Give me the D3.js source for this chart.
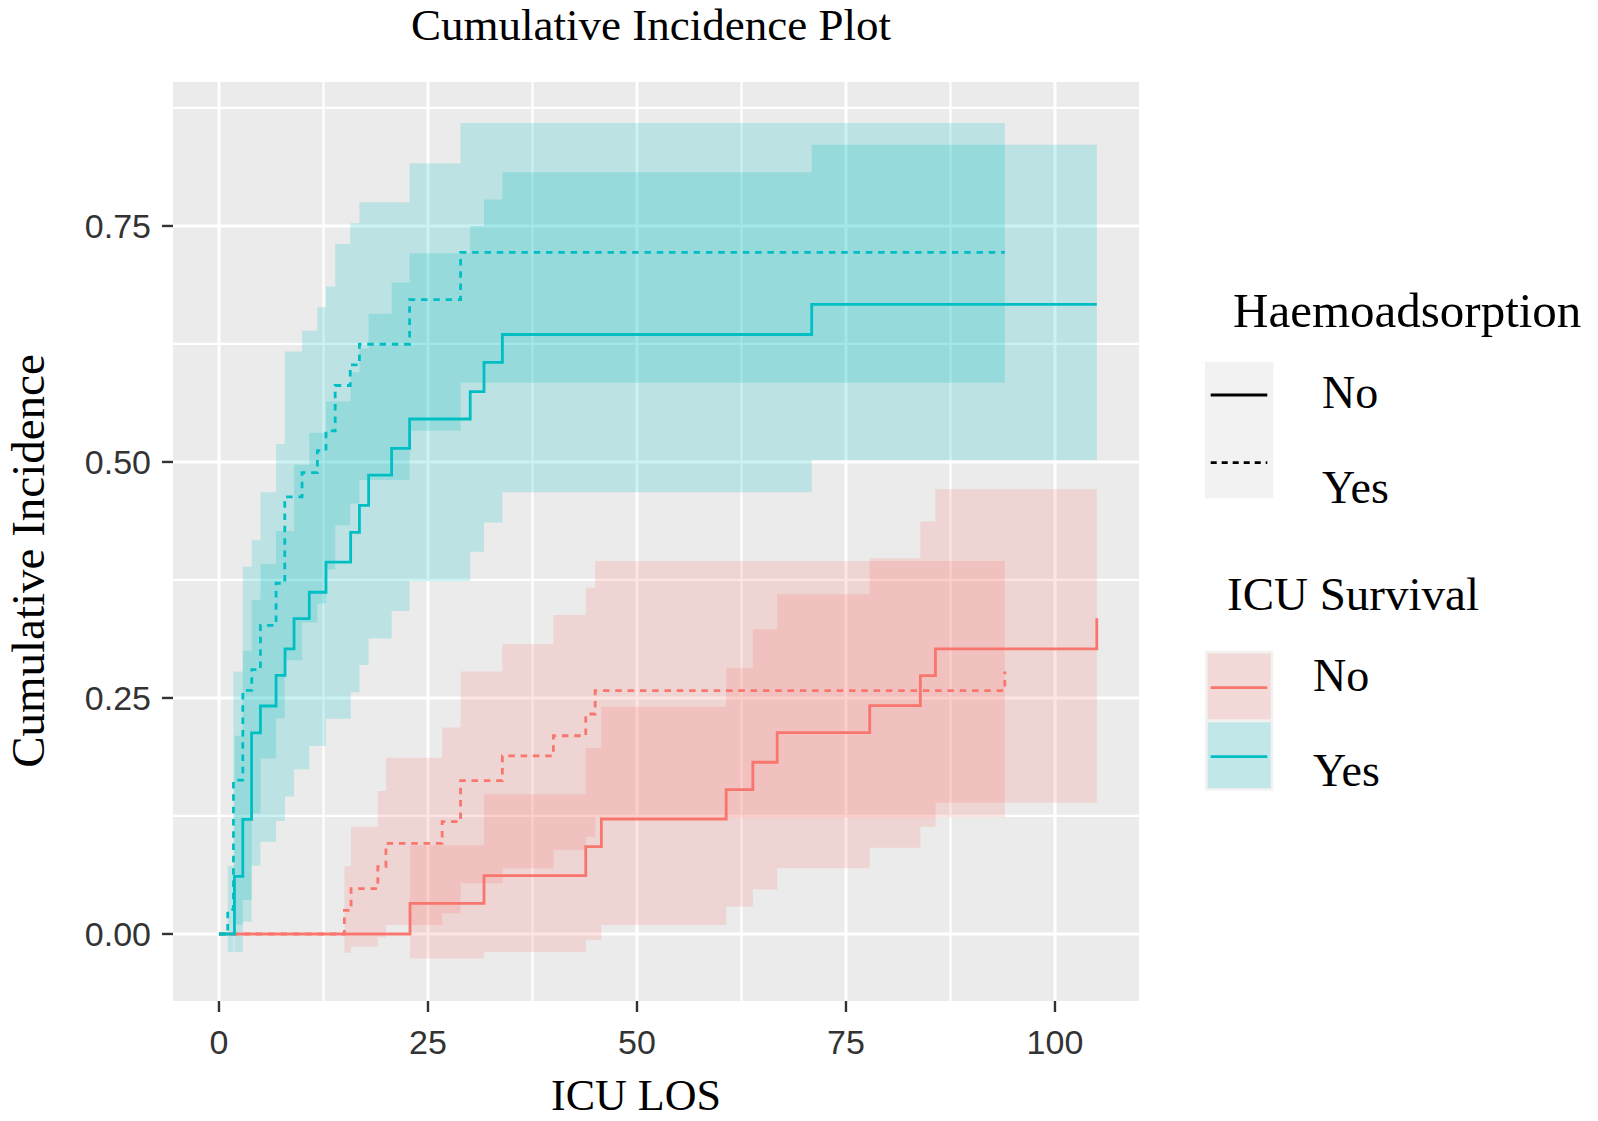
<!DOCTYPE html>
<html><head><meta charset="utf-8">
<script src="https://cdn.jsdelivr.net/npm/d3@7"></script>
<style>body{margin:0;background:#fff;} svg{display:block;}</style>
</head><body>
<svg id="chart" width="1598" height="1121"></svg>
<script>
// ---------------- DATA ----------------
const xTicks = [0, 25, 50, 75, 100];
const xTickLabels = ["0", "25", "50", "75", "100"];
const xMinorTicks = [12.5, 37.5, 62.5, 87.5];
const yTicks = [0, 0.25, 0.5, 0.75];
const yTickLabels = ["0.00", "0.25", "0.50", "0.75"];
const yMinorTicks = [0.125, 0.375, 0.625, 0.875];

const haemoLevels = ["No", "Yes"];
const survivalLevels = ["No", "Yes"];

// ICU Survival = Yes, Haemoadsorption = No
const survYesHaemoNoTime  = [0, 1.85, 2.85, 3.9, 4.96, 6.83, 7.9, 8.98, 10.8, 12.8, 15.75, 16.8, 17.9, 20.65, 22.8, 30.05, 31.7, 33.9, 70.9];
const survYesHaemoNoEst   = [0, 0.061, 0.1215, 0.213, 0.2415, 0.274, 0.302, 0.334, 0.362, 0.394, 0.4255, 0.454, 0.486, 0.5145, 0.5455, 0.5745, 0.6056, 0.635, 0.667];
const survYesHaemoNoLower = [null, -0.019, 0.013, 0.0724, 0.0978, 0.1197, 0.1455, 0.1745, 0.199, 0.228, 0.256, 0.285, 0.313, 0.342, 0.374, 0.405, 0.436, 0.468, 0.502];
const survYesHaemoNoUpper = [null, 0.21, 0.30, 0.354, 0.392, 0.427, 0.427, 0.497, 0.531, 0.564, 0.595, 0.62, 0.657, 0.69, 0.721, 0.75, 0.778, 0.807, 0.836];
const survYesHaemoNoEnd = 105;

// ICU Survival = Yes, Haemoadsorption = Yes
const survYesHaemoYesTime  = [0, 1.05, 1.73, 2.85, 3.92, 4.96, 6.83, 7.87, 9.94, 11.77, 12.8, 13.9, 15.7, 16.8, 22.8, 28.9];
const survYesHaemoYesEst   = [0, 0.026, 0.163, 0.258, 0.28, 0.327, 0.3715, 0.463, 0.4887, 0.512, 0.533, 0.581, 0.6028, 0.6247, 0.672, 0.722];
const survYesHaemoYesLower = [null, -0.019, 0.01, 0.036, 0.128, 0.186, 0.2285, 0.29, 0.33, 0.35, 0.386, 0.433, 0.456, 0.481, 0.533, 0.584];
const survYesHaemoYesUpper = [null, 0.072, 0.278, 0.389, 0.417, 0.468, 0.519, 0.617, 0.639, 0.664, 0.686, 0.731, 0.753, 0.775, 0.8165, 0.859];
const survYesHaemoYesEnd = 94;

// ICU Survival = No, Haemoadsorption = No
const survNoHaemoNoTime  = [0, 22.85, 31.7, 43.87, 45.74, 60.67, 63.86, 66.77, 77.84, 83.9, 85.7, 105];
const survNoHaemoNoEst   = [0, 0.0325, 0.0618, 0.0925, 0.1218, 0.153, 0.1819, 0.2133, 0.2419, 0.2736, 0.302, 0.3344];
const survNoHaemoNoLower = [null, -0.026, -0.019, -0.006, 0.0095, 0.029, 0.047, 0.0696, 0.0914, 0.1137, 0.139, null];
const survNoHaemoNoUpper = [null, 0.094, 0.148, 0.197, 0.2408, 0.2815, 0.3227, 0.36, 0.398, 0.437, 0.471, null];
const survNoHaemoNoEnd = 105;

// ICU Survival = No, Haemoadsorption = Yes
const survNoHaemoYesTime  = [0, 15.0, 15.8, 19.0, 19.97, 26.7, 28.9, 33.9, 40.0, 43.87, 45.0, 94];
const survNoHaemoYesEst   = [0, 0.025, 0.048, 0.0713, 0.096, 0.119, 0.1624, 0.1886, 0.21, 0.233, 0.2577, 0.278];
const survNoHaemoYesLower = [null, -0.0198, -0.0134, -0.0035, 0.0095, 0.0219, 0.0537, 0.0696, 0.089, 0.103, 0.1236, null];
const survNoHaemoYesUpper = [null, 0.072, 0.1137, 0.1515, 0.1868, 0.2186, 0.278, 0.3068, 0.3379, 0.3668, 0.395, null];
const survNoHaemoYesEnd = 94;

const series = [
  {survival: "No",  haemo: "Yes", time: survNoHaemoYesTime,  est: survNoHaemoYesEst,  lower: survNoHaemoYesLower,  upper: survNoHaemoYesUpper,  end: survNoHaemoYesEnd},
  {survival: "No",  haemo: "No",  time: survNoHaemoNoTime,   est: survNoHaemoNoEst,   lower: survNoHaemoNoLower,   upper: survNoHaemoNoUpper,   end: survNoHaemoNoEnd},
  {survival: "Yes", haemo: "Yes", time: survYesHaemoYesTime, est: survYesHaemoYesEst, lower: survYesHaemoYesLower, upper: survYesHaemoYesUpper, end: survYesHaemoYesEnd},
  {survival: "Yes", haemo: "No",  time: survYesHaemoNoTime,  est: survYesHaemoNoEst,  lower: survYesHaemoNoLower,  upper: survYesHaemoNoUpper,  end: survYesHaemoNoEnd}
];

// ---------------- LAYOUT ----------------
const panel = {left: 173, right: 1139, top: 82, bottom: 1001};
const colorScale = d3.scaleOrdinal().domain(survivalLevels).range(["#F8766D", "#00BFC4"]);
const dashScale = d3.scaleOrdinal().domain(haemoLevels).range([null, "6.5,5.8"]);

const x = d3.scaleLinear().domain([-5.5, 110.05]).range([panel.left, panel.right]);
const y = d3.scaleLinear().domain([-0.071, 0.9025]).range([panel.bottom, panel.top]);

const svg = d3.select("#chart");
const serif = "'Liberation Serif', 'DejaVu Serif', serif";
const sans = "'Liberation Sans', Arial, sans-serif";

// Title
svg.append("text").attr("x", 651).attr("y", 40).attr("text-anchor", "middle")
  .attr("font-family", serif).attr("font-size", 45).attr("fill", "#000")
  .text("Cumulative Incidence Plot");

// Panel background
svg.append("rect").attr("x", panel.left).attr("y", panel.top)
  .attr("width", panel.right - panel.left).attr("height", panel.bottom - panel.top)
  .attr("fill", "#EBEBEB");

const grid = svg.append("g");
grid.selectAll(".vminor").data(xMinorTicks).join("line")
  .attr("x1", d => x(d)).attr("x2", d => x(d)).attr("y1", panel.top).attr("y2", panel.bottom)
  .attr("stroke", "#fff").attr("stroke-width", 2.2);
grid.selectAll(".hminor").data(yMinorTicks).join("line")
  .attr("y1", d => y(d)).attr("y2", d => y(d)).attr("x1", panel.left).attr("x2", panel.right)
  .attr("stroke", "#fff").attr("stroke-width", 2.2);
grid.selectAll(".vmajor").data(xTicks).join("line")
  .attr("x1", d => x(d)).attr("x2", d => x(d)).attr("y1", panel.top).attr("y2", panel.bottom)
  .attr("stroke", "#fff").attr("stroke-width", 3);
grid.selectAll(".hmajor").data(yTicks).join("line")
  .attr("y1", d => y(d)).attr("y2", d => y(d)).attr("x1", panel.left).attr("x2", panel.right)
  .attr("stroke", "#fff").attr("stroke-width", 3);

const clipId = "panelClip";
svg.append("clipPath").attr("id", clipId).append("rect")
  .attr("x", panel.left).attr("y", panel.top)
  .attr("width", panel.right - panel.left).attr("height", panel.bottom - panel.top);
const plot = svg.append("g").attr("clip-path", `url(#${clipId})`);

// Bands
function bandPoints(s) {
  const pts = [];
  let last = -1;
  for (let i = 0; i < s.time.length; i++) {
    if (s.lower[i] != null && s.upper[i] != null) {
      pts.push({t: s.time[i], lo: s.lower[i], hi: s.upper[i]});
      last = i;
    }
  }
  if (last >= 0) {
    const nextT = (last + 1 < s.time.length) ? s.time[last + 1] : s.end;
    pts.push({t: nextT, lo: s.lower[last], hi: s.upper[last]});
  }
  return pts;
}
const area = d3.area().curve(d3.curveStepAfter)
  .x(d => x(d.t)).y0(d => y(d.lo)).y1(d => y(d.hi));
plot.selectAll(".band").data(series).join("path")
  .attr("d", s => area(bandPoints(s)))
  .attr("fill", s => colorScale(s.survival)).attr("fill-opacity", 0.2).attr("stroke", "none");

// Lines
function linePoints(s) {
  const pts = s.time.map((t, i) => ({t, v: s.est[i]}));
  const lastT = s.time[s.time.length - 1];
  if (s.end > lastT) pts.push({t: s.end, v: s.est[s.est.length - 1]});
  return pts;
}
const line = d3.line().curve(d3.curveStepAfter).x(d => x(d.t)).y(d => y(d.v));
plot.selectAll(".curve").data(series).join("path")
  .attr("d", s => line(linePoints(s)))
  .attr("fill", "none").attr("stroke", s => colorScale(s.survival))
  .attr("stroke-width", 2.8)
  .attr("stroke-dasharray", s => dashScale(s.haemo));

// Axes ticks & labels
const axisG = svg.append("g");
axisG.selectAll(".yt").data(yTicks).join("line")
  .attr("x1", panel.left - 11).attr("x2", panel.left).attr("y1", d => y(d)).attr("y2", d => y(d))
  .attr("stroke", "#333").attr("stroke-width", 2.4);
axisG.selectAll(".ytl").data(yTicks).join("text")
  .attr("x", 151).attr("y", d => y(d)).attr("dy", "0.36em").attr("text-anchor", "end")
  .attr("font-family", sans).attr("font-size", 34).attr("fill", "#333")
  .text((d, i) => yTickLabels[i]);
axisG.selectAll(".xt").data(xTicks).join("line")
  .attr("y1", panel.bottom).attr("y2", panel.bottom + 11).attr("x1", d => x(d)).attr("x2", d => x(d))
  .attr("stroke", "#333").attr("stroke-width", 2.4);
axisG.selectAll(".xtl").data(xTicks).join("text")
  .attr("x", d => x(d)).attr("y", 1054).attr("text-anchor", "middle")
  .attr("font-family", sans).attr("font-size", 34).attr("fill", "#333")
  .text((d, i) => xTickLabels[i]);

// Axis titles
svg.append("text").attr("x", 636).attr("y", 1110).attr("text-anchor", "middle")
  .attr("font-family", serif).attr("font-size", 44).attr("fill", "#000").text("ICU LOS");
svg.append("text").attr("transform", "translate(44,561) rotate(-90)").attr("text-anchor", "middle")
  .attr("font-family", serif).attr("font-size", 47).attr("fill", "#000").text("Cumulative Incidence");

// Legend: Haemoadsorption
const leg = svg.append("g");
leg.append("text").attr("x", 1233).attr("y", 327).attr("font-family", serif).attr("font-size", 49)
  .attr("fill", "#000").text("Haemoadsorption");
leg.append("rect").attr("x", 1205).attr("y", 361.7).attr("width", 68.3).attr("height", 136.6).attr("fill", "#F2F2F2");
const haemoKeyY = [395, 462.7];
const haemoLabelY = [408.3, 503.3];
haemoLevels.forEach((lv, i) => {
  leg.append("line").attr("x1", 1210.7).attr("x2", 1267.3).attr("y1", haemoKeyY[i]).attr("y2", haemoKeyY[i])
    .attr("stroke", "#000").attr("stroke-width", 2.8)
    .attr("stroke-dasharray", dashScale(lv) ? "6,5" : null);
  leg.append("text").attr("x", 1322).attr("y", haemoLabelY[i]).attr("font-family", serif)
    .attr("font-size", 46).attr("fill", "#000").text(lv);
});

// Legend: ICU Survival
leg.append("text").attr("x", 1227).attr("y", 610).attr("font-family", serif).attr("font-size", 47)
  .attr("fill", "#000").text("ICU Survival");
leg.append("rect").attr("x", 1205).attr("y", 650.7).attr("width", 68.3).attr("height", 140).attr("fill", "#F2F2F2");
const survKeyTop = [653.3, 722.3];
const survLabelY = [691, 786];
survivalLevels.forEach((lv, i) => {
  leg.append("rect").attr("x", 1207.7).attr("y", survKeyTop[i]).attr("width", 63).attr("height", 66)
    .attr("fill", colorScale(lv)).attr("fill-opacity", 0.2);
  leg.append("line").attr("x1", 1210.7).attr("x2", 1267.3)
    .attr("y1", survKeyTop[i] + 34.4).attr("y2", survKeyTop[i] + 34.4)
    .attr("stroke", colorScale(lv)).attr("stroke-width", 2.8);
  leg.append("text").attr("x", 1313).attr("y", survLabelY[i]).attr("font-family", serif)
    .attr("font-size", 46).attr("fill", "#000").text(lv);
});
</script>
</body></html>
